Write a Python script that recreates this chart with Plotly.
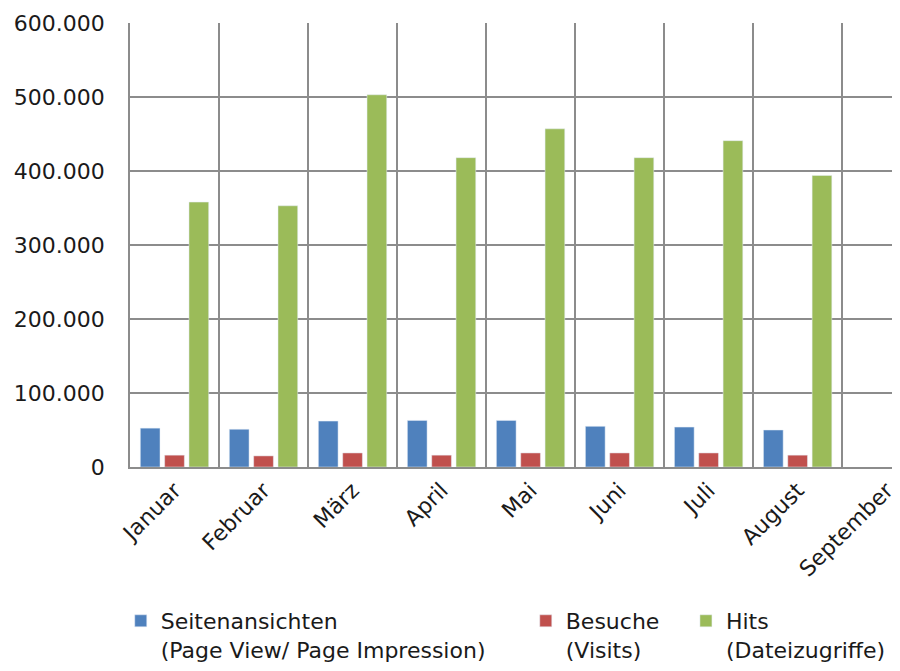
import plotly.graph_objects as go

MONTHS = ["Januar", "Februar", "März", "April", "Mai", "Juni", "Juli", "August", "September"]
SEITENANSICHTEN = [52500, 51000, 62000, 63000, 63000, 55000, 54000, 50000, None]
BESUCHE = [16000, 15000, 19000, 16000, 19000, 19000, 19000, 16000, None]
HITS = [358000, 353000, 503000, 418000, 457000, 418000, 441000, 394000, None]

GRID = "#8c8c8c"
FONT = "DejaVu Sans"

fig = go.Figure()
fig.add_trace(go.Bar(x=MONTHS, y=SEITENANSICHTEN, name="Seitenansichten<br>(Page View/ Page Impression)",
                     marker={"color": "#4F81BD"}, legend="legend"))
fig.add_trace(go.Bar(x=MONTHS, y=BESUCHE, name="Besuche<br>(Visits)",
                     marker={"color": "#C0504D"}, legend="legend2"))
fig.add_trace(go.Bar(x=MONTHS, y=HITS, name="Hits<br>(Dateizugriffe)",
                     marker={"color": "#9BBB59"}, legend="legend3"))

legend_style = {
    "orientation": "h",
    "y": -0.3,
    "xanchor": "left",
    "yanchor": "top",
    "valign": "top",
    "font": {"size": 22, "color": "#1a1a1a"},
    "itemwidth": 30,
    "bgcolor": "rgba(0,0,0,0)",
}

# page body has an 8px margin, so the figure is 8px smaller than the window
fig.update_layout(
    width=892,
    height=663,
    margin={"l": 122, "r": 0, "t": 15, "b": 194},
    paper_bgcolor="white",
    plot_bgcolor="white",
    font={"family": FONT, "color": "#1a1a1a", "size": 22},
    separators=",.",
    barmode="group",
    bargap=0.18,
    bargroupgap=0.19,
    showlegend=True,
    legend={**legend_style, "x": -0.012},
    legend2={**legend_style, "x": 0.514},
    legend3={**legend_style, "x": 0.722},
)
fig.update_xaxes(
    range=[-0.5, 8.15],
    automargin=False,
    tickson="boundaries",
    showgrid=True,
    gridcolor=GRID,
    gridwidth=1.5,
    showline=True,
    linecolor=GRID,
    linewidth=1.5,
    ticks="",
    tickangle=-45,
    tickfont={"size": 22},
)
fig.update_yaxes(
    range=[0, 600000],
    automargin=False,
    dtick=100000,
    tickformat=",d",
    showgrid=True,
    gridcolor=GRID,
    gridwidth=1.5,
    showline=True,
    linecolor=GRID,
    linewidth=1.5,
    zeroline=False,
    ticks="",
    ticklabelstandoff=19,
    tickfont={"size": 22},
)

fig.write_html("out.html")
